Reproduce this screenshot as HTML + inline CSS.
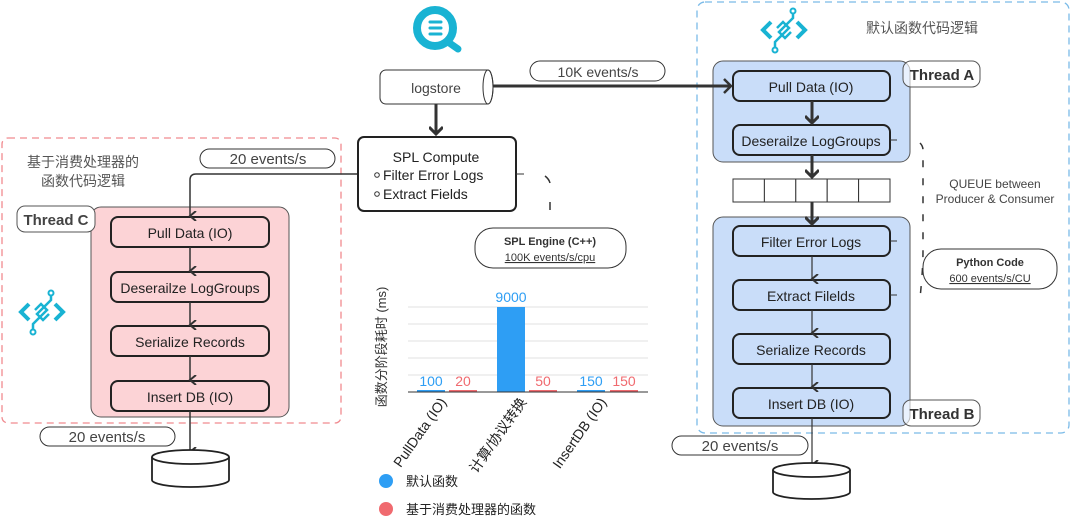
<!DOCTYPE html>
<html><head><meta charset="utf-8"><style>
html,body{margin:0;padding:0;background:#fff;}
svg{display:block;}
text{font-family:"Liberation Sans","Noto Sans CJK SC",sans-serif;}
</style></head><body>
<svg width="1080" height="527" viewBox="0 0 1080 527" xmlns="http://www.w3.org/2000/svg">
<defs>
<marker id="ah" markerWidth="10" markerHeight="10" refX="5" refY="8" orient="auto" markerUnits="userSpaceOnUse">
<path d="M0,2 L5,8 L10,2" fill="none" stroke="#333" stroke-width="2"/></marker>
<marker id="ahd" markerWidth="14" markerHeight="12" refX="7" refY="10" orient="0" markerUnits="userSpaceOnUse">
<path d="M0,3 L7,10 L14,3" fill="none" stroke="#333" stroke-width="3"/></marker>
<g id="icon">
<path d="M10,14 L2,22 L10,30" fill="none" stroke="#19b3d3" stroke-width="4"/>
<path d="M36,14 L44,22 L36,30" fill="none" stroke="#19b3d3" stroke-width="4"/>
<path d="M32,4 L32,10 L18,24 L24,30 L30,24" fill="none" stroke="#19b3d3" stroke-width="2.5"/>
<path d="M14,40 L14,34 L28,20 L22,14 L16,20" fill="none" stroke="#19b3d3" stroke-width="2.5"/>
<circle cx="32" cy="3" r="2.5" fill="#fff" stroke="#19b3d3" stroke-width="2"/>
<circle cx="14" cy="42" r="2.5" fill="#fff" stroke="#19b3d3" stroke-width="2"/>
</g>
</defs>

<!-- Left red dashed -->
<rect x="2" y="138" width="339" height="285" rx="6" fill="none" stroke="#f08a8f" stroke-width="1.3" stroke-dasharray="7,5"/>
<text x="27" y="167" font-size="14" fill="#555">基于消费处理器的</text>
<text x="41" y="186" font-size="14" fill="#555">函数代码逻辑</text>
<use href="#icon" x="19" y="290"/>
<rect x="91" y="207" width="198" height="210" rx="10" fill="#fcd3d6" stroke="#555" stroke-width="1"/>
<rect x="17" y="206" width="78" height="26" rx="8" fill="#fff" stroke="#555" stroke-width="1"/>
<text x="56" y="225" font-size="15" font-weight="bold" fill="#444" text-anchor="middle">Thread C</text>
<g font-size="14" fill="#222" text-anchor="middle">
<rect x="111" y="217" width="158" height="30" rx="7" fill="#fcd3d6" stroke="#222" stroke-width="2"/>
<text x="190" y="238">Pull Data (IO)</text>
<rect x="111" y="272" width="158" height="30" rx="7" fill="#fcd3d6" stroke="#222" stroke-width="2"/>
<text x="190" y="293">Deserailze LogGroups</text>
<rect x="111" y="326" width="158" height="30" rx="7" fill="#fcd3d6" stroke="#222" stroke-width="2"/>
<text x="190" y="347">Serialize Records</text>
<rect x="111" y="381" width="158" height="30" rx="7" fill="#fcd3d6" stroke="#222" stroke-width="2"/>
<text x="190" y="402">Insert DB (IO)</text>
</g>
<g stroke="#333" stroke-width="1.5" fill="none">
<path d="M358,174 L196,174 Q190,174 190,180 L190,216" marker-end="url(#ah)"/>
<path d="M190,247 L190,271" marker-end="url(#ah)"/>
<path d="M190,302 L190,325" marker-end="url(#ah)"/>
<path d="M190,356 L190,380" marker-end="url(#ah)"/>
<path d="M190,411 L190,452" marker-end="url(#ah)"/>
</g>
<rect x="200" y="149" width="135" height="19" rx="9.5" fill="#fff" stroke="#333" stroke-width="1"/>
<text x="268" y="164" font-size="15" fill="#444" text-anchor="middle">20 events/s</text>
<rect x="40" y="427" width="135" height="19" rx="9.5" fill="#fff" stroke="#333" stroke-width="1"/>
<text x="107" y="442" font-size="15" fill="#444" text-anchor="middle">20 events/s</text>
<path d="M152,457 L152,480 A38.5,7 0 0 0 229,480 L229,457" fill="#fff" stroke="#222" stroke-width="1.8"/>
<ellipse cx="190.5" cy="457" rx="38.5" ry="7" fill="#fff" stroke="#222" stroke-width="1.8"/>

<!-- Middle -->
<circle cx="435" cy="28" r="18" fill="none" stroke="#19b3d3" stroke-width="8"/>
<line x1="448" y1="42" x2="458" y2="49" stroke="#19b3d3" stroke-width="7" stroke-linecap="round"/>
<g stroke="#19b3d3" stroke-width="3" stroke-linecap="round"><line x1="430" y1="22" x2="441" y2="22"/><line x1="430" y1="28" x2="441" y2="28"/><line x1="430" y1="34" x2="441" y2="34"/></g>
<path d="M386,70 L488,70 A5,17 0 0 1 488,104 L386,104 A6,6 0 0 1 380,98 L380,76 A6,6 0 0 1 386,70 Z" fill="#fff" stroke="#333" stroke-width="1"/>
<ellipse cx="488" cy="87" rx="5" ry="17" fill="none" stroke="#333" stroke-width="1"/>
<text x="436" y="93" font-size="14" fill="#444" text-anchor="middle">logstore</text>
<line x1="436" y1="104" x2="436" y2="134" stroke="#333" stroke-width="3" marker-end="url(#ahd)"/>
<rect x="530" y="61" width="135" height="20" rx="10" fill="#fff" stroke="#333" stroke-width="1"/>
<text x="598" y="77" font-size="14" fill="#444" text-anchor="middle">10K events/s</text>
<rect x="358" y="137" width="158" height="74" rx="6" fill="#fff" stroke="#222" stroke-width="2"/>
<line x1="516" y1="174" x2="524" y2="174" stroke="#333" stroke-width="1"/>
<text x="436" y="162" font-size="14" fill="#222" text-anchor="middle">SPL Compute</text>
<circle cx="377" cy="175" r="2.3" fill="none" stroke="#333"/>
<text x="383" y="180" font-size="14" fill="#222">Filter Error Logs</text>
<circle cx="377" cy="194" r="2.3" fill="none" stroke="#333"/>
<text x="383" y="199" font-size="14" fill="#222">Extract Fields</text>
<path d="M545,176 Q549,179 550,183" fill="none" stroke="#333" stroke-width="1.5"/>
<line x1="550" y1="202" x2="550" y2="210" stroke="#333" stroke-width="1.5"/>
<rect x="475" y="228" width="151" height="40" rx="18" fill="#fff" stroke="#333" stroke-width="1"/>
<text x="550" y="245" font-size="11" font-weight="bold" fill="#333" text-anchor="middle">SPL Engine (C++)</text>
<text x="550" y="261" font-size="11" fill="#333" text-anchor="middle" text-decoration="underline">100K events/s/cpu</text>

<!-- Chart -->
<g stroke="#e0e0e0" stroke-width="1">
<line x1="408" y1="307" x2="648" y2="307"/><line x1="408" y1="324" x2="648" y2="324"/>
<line x1="408" y1="341" x2="648" y2="341"/><line x1="408" y1="358" x2="648" y2="358"/>
<line x1="408" y1="375" x2="648" y2="375"/></g>
<rect x="497" y="307" width="28" height="85" fill="#2e9ef4"/>
<rect x="417" y="390" width="28" height="2" fill="#2e9ef4"/>
<rect x="449" y="390" width="28" height="2" fill="#f06a6f"/>
<rect x="529" y="390" width="28" height="2" fill="#f06a6f"/>
<rect x="577" y="390" width="28" height="2" fill="#2e9ef4"/>
<rect x="610" y="390" width="28" height="2" fill="#f06a6f"/>
<line x1="408" y1="392" x2="648" y2="392" stroke="#333" stroke-width="1"/>
<g font-size="14" text-anchor="middle">
<text x="431" y="386" fill="#2e9ef4">100</text><text x="463" y="386" fill="#f06a6f">20</text>
<text x="511" y="302" fill="#2e9ef4">9000</text><text x="543" y="386" fill="#f06a6f">50</text>
<text x="591" y="386" fill="#2e9ef4">150</text><text x="624" y="386" fill="#f06a6f">150</text>
</g>
<text transform="translate(386,347) rotate(-90)" font-size="13" fill="#333" text-anchor="middle">函数分阶段耗时 (ms)</text>
<g font-size="14" fill="#222" text-anchor="end">
<text transform="translate(447,402) rotate(-55)">PullData (IO)</text>
<text transform="translate(527,402) rotate(-55)">计算/协议转换</text>
<text transform="translate(607,402) rotate(-55)">InsertDB (IO)</text>
</g>
<circle cx="386" cy="481" r="7" fill="#2e9ef4"/>
<text x="406" y="486" font-size="13" fill="#222">默认函数</text>
<circle cx="386" cy="509" r="7" fill="#f06a6f"/>
<text x="406" y="514" font-size="13" fill="#222">基于消费处理器的函数</text>

<!-- Right blue dashed -->
<rect x="697" y="2" width="372" height="431" rx="8" fill="none" stroke="#7bbbe8" stroke-width="1.3" stroke-dasharray="7,5"/>
<use href="#icon" x="761" y="8"/>
<text x="866" y="33" font-size="14" fill="#555">默认函数代码逻辑</text>
<rect x="713" y="61" width="197" height="101" rx="10" fill="#c9ddf9" stroke="#555" stroke-width="1"/>
<rect x="713" y="217" width="197" height="209" rx="10" fill="#c9ddf9" stroke="#555" stroke-width="1"/>
<rect x="903" y="61" width="77" height="26" rx="8" fill="#fff" fill-opacity="0.6" stroke="#555" stroke-width="1"/>
<text x="942" y="80" font-size="15" font-weight="bold" fill="#333" text-anchor="middle">Thread A</text>
<rect x="903" y="400" width="77" height="26" rx="8" fill="#fff" fill-opacity="0.6" stroke="#555" stroke-width="1"/>
<text x="942" y="419" font-size="15" font-weight="bold" fill="#333" text-anchor="middle">Thread B</text>
<line x1="493" y1="86" x2="731" y2="86" stroke="#333" stroke-width="3"/>
<path d="M724,79 L731,86 L724,93" fill="none" stroke="#333" stroke-width="2.5"/>
<g font-size="14" fill="#222" text-anchor="middle">
<rect x="733" y="71" width="157" height="30" rx="7" fill="#c9ddf9" stroke="#222" stroke-width="2"/>
<text x="811" y="92">Pull Data (IO)</text>
<rect x="733" y="125" width="157" height="30" rx="7" fill="#c9ddf9" stroke="#222" stroke-width="2"/>
<text x="811" y="146">Deserailze LogGroups</text>
<rect x="733" y="226" width="157" height="30" rx="7" fill="#c9ddf9" stroke="#222" stroke-width="2"/>
<text x="811" y="247">Filter Error Logs</text>
<rect x="733" y="280" width="157" height="30" rx="7" fill="#c9ddf9" stroke="#222" stroke-width="2"/>
<text x="811" y="301">Extract Filelds</text>
<rect x="733" y="334" width="157" height="30" rx="7" fill="#c9ddf9" stroke="#222" stroke-width="2"/>
<text x="811" y="355">Serialize Records</text>
<rect x="733" y="388" width="157" height="30" rx="7" fill="#c9ddf9" stroke="#222" stroke-width="2"/>
<text x="811" y="409">Insert DB (IO)</text>
</g>
<g fill="#fff" stroke="#333" stroke-width="1">
<rect x="733" y="179" width="31.4" height="23"/><rect x="764.4" y="179" width="31.4" height="23"/>
<rect x="795.8" y="179" width="31.4" height="23"/><rect x="827.2" y="179" width="31.4" height="23"/>
<rect x="858.6" y="179" width="31.4" height="23"/></g>
<g stroke="#333" fill="none">
<line x1="812" y1="101" x2="812" y2="123" stroke-width="3" marker-end="url(#ahd)"/>
<line x1="812" y1="155" x2="812" y2="177" stroke-width="3" marker-end="url(#ahd)"/>
<line x1="812" y1="202" x2="812" y2="224" stroke-width="3" marker-end="url(#ahd)"/>
<path d="M812,256 L812,279" stroke-width="1.2" marker-end="url(#ah)"/>
<path d="M812,310 L812,333" stroke-width="1.2" marker-end="url(#ah)"/>
<path d="M812,364 L812,387" stroke-width="1.2" marker-end="url(#ah)"/>
<path d="M812,418 L812,465" stroke-width="1.2" marker-end="url(#ah)"/>
<line x1="890" y1="140" x2="897" y2="140" stroke-width="1"/>
<line x1="890" y1="241" x2="897" y2="241" stroke-width="1"/>
<line x1="890" y1="295" x2="897" y2="295" stroke-width="1"/>
<path d="M920,143 Q923,146 923,150 L923,250 Q923,270 920,298" stroke-width="1.5" stroke-dasharray="7,11"/>
</g>
<text x="995" y="188" font-size="12" fill="#444" text-anchor="middle">QUEUE between</text>
<text x="995" y="203" font-size="12" fill="#444" text-anchor="middle">Producer &amp; Consumer</text>
<rect x="923" y="249" width="134" height="40" rx="18" fill="#fff" stroke="#333" stroke-width="1"/>
<text x="990" y="266" font-size="11" font-weight="bold" fill="#333" text-anchor="middle">Python Code</text>
<text x="990" y="282" font-size="11" fill="#333" text-anchor="middle" text-decoration="underline">600 events/s/CU</text>
<rect x="672" y="436" width="136" height="19" rx="9.5" fill="#fff" stroke="#333" stroke-width="1"/>
<text x="740" y="451" font-size="15" fill="#444" text-anchor="middle">20 events/s</text>
<path d="M773,470 L773,492 A38.5,7 0 0 0 850,492 L850,470" fill="#fff" stroke="#222" stroke-width="1.8"/>
<ellipse cx="811.5" cy="470" rx="38.5" ry="7" fill="#fff" stroke="#222" stroke-width="1.8"/>
</svg>
</body></html>
